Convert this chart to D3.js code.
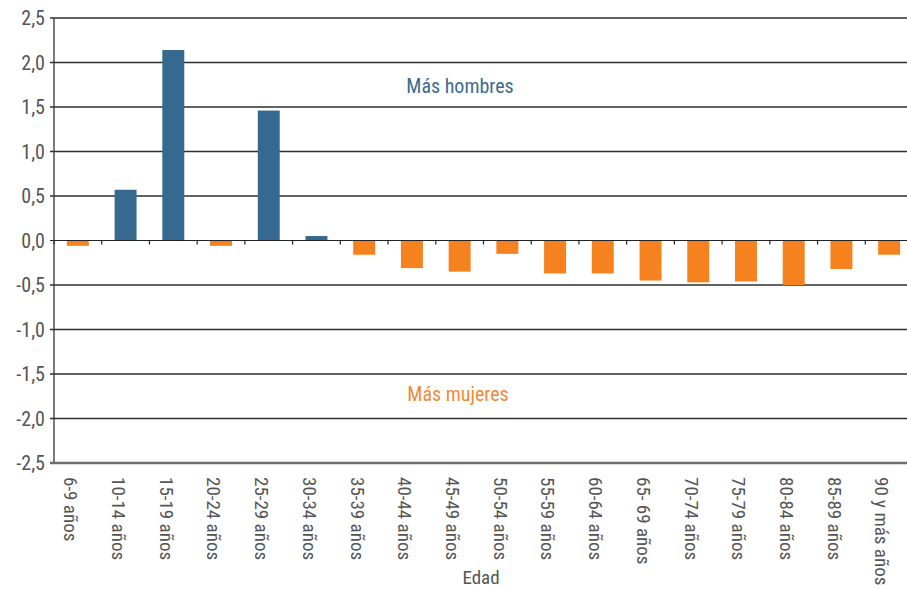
<!DOCTYPE html>
<html>
<head>
<meta charset="utf-8">
<script src="https://cdn.jsdelivr.net/npm/d3@7"></script>
<style>
  body { margin: 0; background: #fff; }
  svg text { font-family: "Roboto Condensed", "Liberation Sans Narrow", "Arial Narrow", "Liberation Sans", sans-serif; }
</style>
</head>
<body>
<div id="chart"></div>
<script>
const categories = ["6-9 años", "10-14 años", "15-19 años", "20-24 años", "25-29 años", "30-34 años",
  "35-39 años", "40-44 años", "45-49 años", "50-54 años", "55-59 años", "60-64 años",
  "65- 69 años", "70-74 años", "75-79 años", "80-84 años", "85-89 años", "90 y más años"];
const values = [-0.06, 0.57, 2.14, -0.06, 1.46, 0.05, -0.16, -0.31, -0.35, -0.15,
  -0.37, -0.37, -0.45, -0.47, -0.46, -0.50, -0.32, -0.16];
const yTicks = [2.5, 2.0, 1.5, 1.0, 0.5, 0.0, -0.5, -1.0, -1.5, -2.0, -2.5];
const axisTitle = "Edad";
const upLabel = "Más hombres";
const downLabel = "Más mujeres";

const W = 907, H = 589;
const plotLeft = 54, plotRight = 913, plotTop = 18, plotBottom = 463;
const blue = "#35698f", orange = "#f5811f";

const svg = d3.select("#chart").append("svg")
  .attr("width", W).attr("height", H);

svg.append("rect").attr("width", W).attr("height", H).attr("fill", "#fff");

const x = d3.scaleBand().domain(categories).range([plotLeft, plotRight])
  .paddingInner(0.54).paddingOuter(0.27);
const xStep = d3.scaleBand().domain(categories).range([plotLeft, plotRight]);
const y = d3.scaleLinear().domain([-2.5, 2.5]).range([plotBottom, plotTop]);

// gridlines
svg.append("g").selectAll("line")
  .data(yTicks.filter(d => d !== 0 && d !== -2.5))
  .enter().append("line")
  .attr("x1", plotLeft - 4).attr("x2", W)
  .attr("y1", d => y(d)).attr("y2", d => y(d))
  .attr("stroke", "#2e2e2e").attr("stroke-width", 1.3);

// y axis labels
svg.append("g").selectAll("text")
  .data(yTicks)
  .enter().append("text")
  .attr("x", plotLeft - 9).attr("y", d => y(d))
  .attr("dy", "0.35em")
  .attr("text-anchor", "end")
  .attr("fill", "#555")
  .attr("font-size", 20)
  .text(d => d.toFixed(1).replace(".", ","));

// bars
svg.append("g").selectAll("rect")
  .data(values)
  .enter().append("rect")
  .attr("x", (d, i) => x(categories[i]))
  .attr("width", x.bandwidth())
  .attr("y", d => y(Math.max(0, d)))
  .attr("height", d => Math.abs(y(d) - y(0)))
  .attr("fill", d => d >= 0 ? blue : orange);

// zero line with category ticks
svg.append("line")
  .attr("x1", plotLeft - 4).attr("x2", W)
  .attr("y1", y(0)).attr("y2", y(0))
  .attr("stroke", "#222").attr("stroke-width", 1.2);
svg.append("g").selectAll("line")
  .data(categories)
  .enter().append("line")
  .attr("x1", d => xStep(d)).attr("x2", d => xStep(d))
  .attr("y1", y(0)).attr("y2", y(0) + 4)
  .attr("stroke", "#222").attr("stroke-width", 1.2);

// y axis line
svg.append("line")
  .attr("x1", plotLeft).attr("x2", plotLeft)
  .attr("y1", plotTop).attr("y2", plotBottom)
  .attr("stroke", "#333").attr("stroke-width", 1.3);

// bottom axis line
svg.append("line")
  .attr("x1", plotLeft - 4).attr("x2", W)
  .attr("y1", plotBottom).attr("y2", plotBottom)
  .attr("stroke", "#6e6e6e").attr("stroke-width", 2.5);

// x labels
svg.append("g").selectAll("text")
  .data(categories)
  .enter().append("text")
  .attr("transform", d => `translate(${x(d) + x.bandwidth() / 2 - 7},${plotBottom + 14}) rotate(90)`)
  .attr("dy", "0.35em")
  .attr("fill", "#555")
  .attr("font-size", 19)
  .text(d => d);

svg.append("text")
  .attr("x", 481).attr("y", 584)
  .attr("text-anchor", "middle")
  .attr("fill", "#555")
  .attr("font-size", 19)
  .text(axisTitle);

svg.append("text")
  .attr("x", 460).attr("y", 93)
  .attr("text-anchor", "middle")
  .attr("fill", "#3d6a8e")
  .attr("font-size", 20)
  .text(upLabel);

svg.append("text")
  .attr("x", 458).attr("y", 401)
  .attr("text-anchor", "middle")
  .attr("fill", "#f08a35")
  .attr("font-size", 20)
  .text(downLabel);
</script>
</body>
</html>
